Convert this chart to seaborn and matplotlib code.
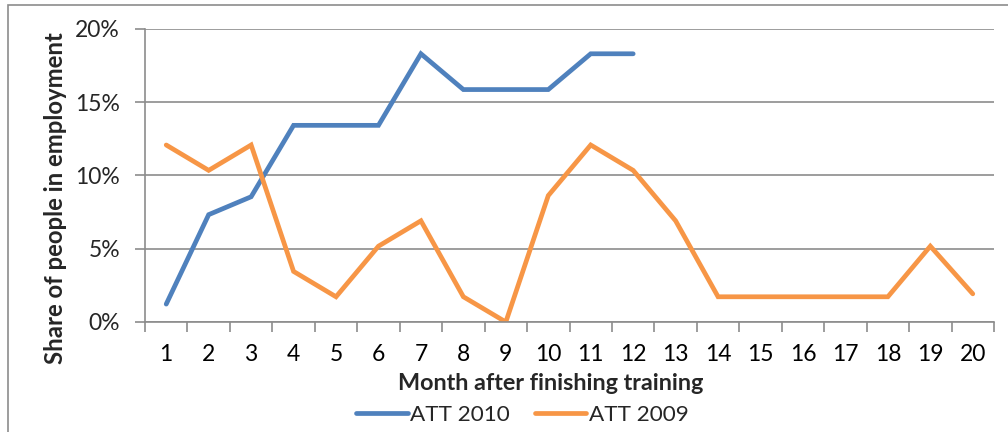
import matplotlib
matplotlib.use("Agg")
import matplotlib.pyplot as plt
import matplotlib.patches as mpatches
from matplotlib.lines import Line2D
from matplotlib.ticker import PercentFormatter, MultipleLocator, FixedLocator
import numpy as np
import pandas as pd
import seaborn as sns

# Share of participants in employment by month after training
months = list(range(1, 21))
att_2010 = [1.22, 7.32, 8.54, 13.41, 13.41, 13.41, 18.29, 15.85, 15.85, 15.85, 18.29, 18.29]
att_2009 = [12.07, 10.34, 12.07, 3.45, 1.72, 5.17, 6.90, 1.72, 0.0, 8.62, 12.07, 10.34,
            6.90, 1.72, 1.72, 1.72, 1.72, 1.72, 5.17, 1.92]
series_names = ["ATT 2010", "ATT 2009"]
colors = {"ATT 2010": "#4F81BD", "ATT 2009": "#F79646"}

df = pd.concat([
    pd.DataFrame({"month": months[:len(att_2010)], "share": np.array(att_2010) / 100, "series": "ATT 2010"}),
    pd.DataFrame({"month": months, "share": np.array(att_2009) / 100, "series": "ATT 2009"}),
], ignore_index=True)

sns.set_theme(style="white")
plt.rcParams["font.family"] = ["Lato", "DejaVu Sans"]

W, H = 1008, 432
fig = plt.figure(figsize=(W / 100, H / 100), dpi=100)
ax_l, ax_r, ax_t, ax_b = 145, 994, 28.7, 322
ax = fig.add_axes([ax_l / W, 1 - ax_b / H, (ax_r - ax_l) / W, (ax_b - ax_t) / H])

sns.lineplot(data=df, x="month", y="share", hue="series", hue_order=series_names,
             palette=colors, linewidth=3.4, ax=ax, legend=False, sort=False)
for ln in ax.get_lines():
    ln.set_solid_capstyle("round")
    ln.set_solid_joinstyle("miter")

grid_c = "#8C8C8C"
ax.set_xlim(0.5, 20.5)
ax.set_ylim(0, 0.2)
ax.set_xlabel("")
ax.set_ylabel("")
ax.yaxis.set_major_locator(MultipleLocator(0.05))
ax.yaxis.set_major_formatter(PercentFormatter(1.0, decimals=0))
ax.set_xticks(months)
ax.set_xticklabels([str(m) for m in months])
ax.xaxis.set_minor_locator(FixedLocator(np.arange(0.5, 21, 1)))
ax.tick_params(axis="x", which="major", length=0, labelsize=16.5, pad=16, colors="black")
ax.tick_params(axis="x", which="minor", length=7, width=1.2, color=grid_c, bottom=True)
ax.tick_params(axis="y", which="major", length=7, width=1.2, color=grid_c, labelsize=16.5,
               pad=11, left=True)

ax.grid(axis="y", color=grid_c, linewidth=1.2)
ax.set_axisbelow(True)
for s in ["top", "right"]:
    ax.spines[s].set_visible(False)
for s in ["left", "bottom"]:
    ax.spines[s].set_color(grid_c)
    ax.spines[s].set_linewidth(1.2)

# axis titles placed in pixel terms relative to the plot area
fig.text(551 / W, 1 - 383 / H, "Month after finishing training", fontsize=16.8,
         fontweight="bold", ha="center", va="center")
fig.text(56 / W, 1 - 198 / H, "Share of people in employment", fontsize=17.2,
         fontweight="bold", ha="center", va="center", rotation=90)

handles = [Line2D([0], [0], color=colors[n], linewidth=3.4) for n in series_names]
fig.legend(handles, series_names, loc="center", bbox_to_anchor=(0.518, 1 - 415 / H), ncol=2,
           frameon=False, fontsize=16.2, handlelength=2.3, handletextpad=0.1, columnspacing=1.1,
           borderaxespad=0, borderpad=0)

# chart area frame
fig.add_artist(mpatches.Rectangle((8 / W, -0.05), 1.1, 1 - 5 / H + 0.05,
                                  transform=fig.transFigure, fill=False,
                                  edgecolor="#8C8C8C", linewidth=1.2))

fig.savefig("out.png", dpi=100)
